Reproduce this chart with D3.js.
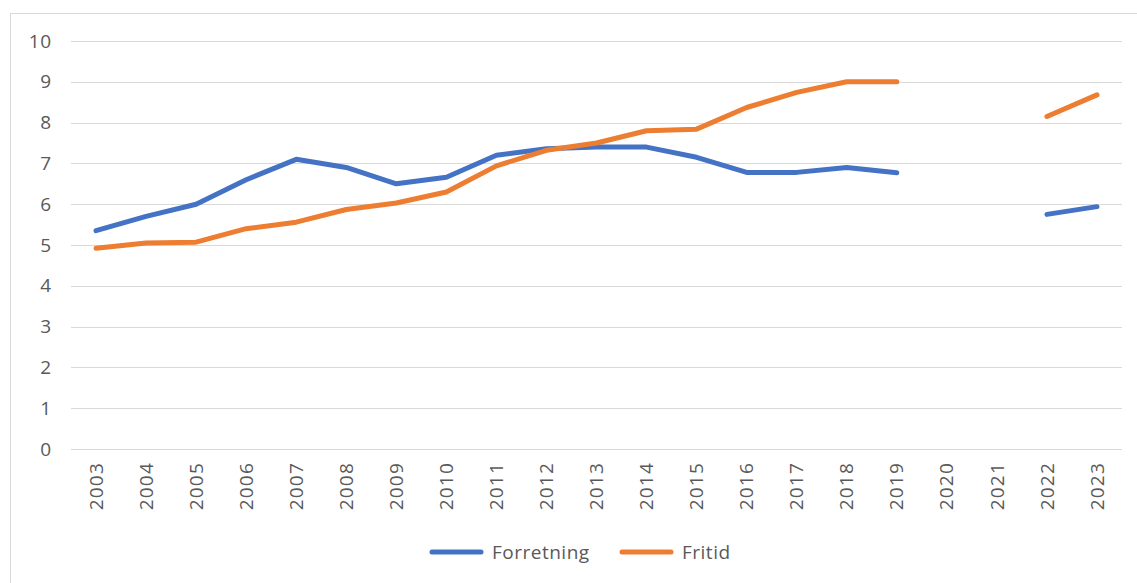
<!DOCTYPE html>
<html><head><meta charset="utf-8">
<script src="https://cdn.jsdelivr.net/npm/d3@7"></script>
<style>
html,body{margin:0;padding:0;background:#fff;}
svg{display:block;}
</style></head>
<body>
<svg id="chart" width="1137" height="583"></svg>
<script>
const years = ["2003","2004","2005","2006","2007","2008","2009","2010","2011","2012","2013","2014","2015","2016","2017","2018","2019","2020","2021","2022","2023"];
const forretning = [5.35,5.7,6.0,6.6,7.1,6.9,6.5,6.66,7.2,7.36,7.4,7.4,7.15,6.78,6.78,6.9,6.77,null,null,5.75,5.94];
const fritid = [4.92,5.05,5.07,5.4,5.56,5.87,6.03,6.3,6.94,7.32,7.5,7.8,7.84,8.37,8.74,9.0,9.0,null,null,8.15,8.68];
const yTicks = [0,1,2,3,4,5,6,7,8,9,10];
const seriesNames = ["Forretning","Fritid"];
const colors = ["#4472C4","#ED7D31"];

(function(){
const svg = d3.select("#chart");
const font = "'Open Sans', 'Liberation Sans', sans-serif";
const textColor = "#595959";

svg.append("rect").attr("x",10.5).attr("y",13.5).attr("width",1140).attr("height",600)
  .attr("fill","none").attr("stroke","#d9d9d9").attr("stroke-width",1);

const mLeft = 71, mRight = 1122, mTop = 41, mBottom = 449;
const x = d3.scaleBand().domain(years).range([mLeft, mRight]).padding(0);
const y = d3.scaleLinear().domain([0,10]).range([mBottom, mTop]);

svg.append("g").selectAll("line").data(yTicks).join("line")
  .attr("x1", mLeft).attr("x2", mRight)
  .attr("y1", d => Math.round(y(d))+0.5).attr("y2", d => Math.round(y(d))+0.5)
  .attr("stroke","#d9d9d9").attr("stroke-width",1);

const yAxis = d3.axisLeft(y).tickValues(yTicks).tickSize(0).tickPadding(0);
const gy = svg.append("g").attr("transform",`translate(${mLeft-19},0)`).call(yAxis);
gy.select(".domain").remove();
gy.selectAll("text").attr("font-family",font).attr("font-size","19px").attr("fill",textColor)
  .attr("letter-spacing","0.8px");

const xAxis = d3.axisBottom(x).tickSize(0).tickPadding(0);
const gx = svg.append("g").attr("transform",`translate(0,${mBottom})`).call(xAxis);
gx.select(".domain").remove();
gx.selectAll("text")
  .attr("font-family",font).attr("font-size","19px").attr("fill",textColor)
  .attr("letter-spacing","1.2px")
  .attr("text-anchor","end").attr("dy","0.35em")
  .attr("transform","translate(0,13) rotate(-90)").attr("x",0).attr("y",0);

const line = d3.line()
  .defined(d => d.v != null)
  .x(d => x(d.year) + x.bandwidth()/2)
  .y(d => y(d.v));

[forretning, fritid].forEach((arr,i) => {
  const data = years.map((yr,j) => ({year: yr, v: arr[j]}));
  svg.append("path").datum(data)
    .attr("fill","none").attr("stroke",colors[i]).attr("stroke-width",5)
    .attr("stroke-linecap","round").attr("stroke-linejoin","round")
    .attr("d", line);
});

const legendItems = [{name:seriesNames[0], color:colors[0], x:432},{name:seriesNames[1], color:colors[1], x:622}];
const lg = svg.append("g");
legendItems.forEach(it => {
  lg.append("line").attr("x1",it.x).attr("x2",it.x+49).attr("y1",552).attr("y2",552)
    .attr("stroke",it.color).attr("stroke-width",5).attr("stroke-linecap","round");
  lg.append("text").attr("x",it.x+60).attr("y",552).attr("dy","0.35em")
    .attr("font-family",font).attr("font-size","19px").attr("letter-spacing","0.5px")
    .attr("fill",textColor).text(it.name);
});
})();
</script>
</body></html>
